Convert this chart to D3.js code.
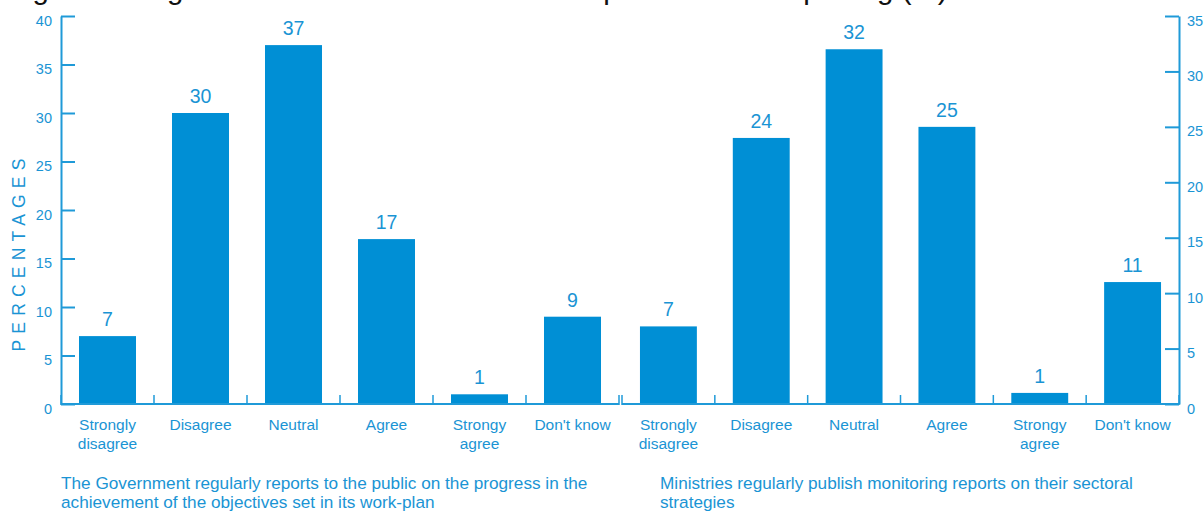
<!DOCTYPE html>
<html>
<head>
<meta charset="utf-8">
<script src="https://cdn.jsdelivr.net/npm/d3@7"></script>
<style>
  html, body { margin: 0; padding: 0; background: #fff; }
  svg { display: block; }
  text { font-family: "Liberation Sans", Arial, sans-serif; }
</style>
</head>
<body>
<svg id="chart" width="1204" height="511"></svg>
<script>
// Survey response categories (shared by both panels)
const categories = ["Strongly disagree", "Disagree", "Neutral", "Agree", "Strongy agree", "Don't know"];
const categoryLines = [["Strongly", "disagree"], ["Disagree"], ["Neutral"], ["Agree"], ["Strongy", "agree"], ["Don't know"]];

// Share of respondents (%)
const governmentReports = [7, 30, 37, 17, 1, 9];
const ministryReports = [7, 24, 32, 25, 1, 11];

// Axis ticks
const leftTicks = [0, 5, 10, 15, 20, 25, 30, 35, 40];
const rightTicks = [0, 5, 10, 15, 20, 25, 30, 35];

const titleText = "Figure 6.7 Agreement with the statements on performance reporting (%)";
const leftCaption = ["The Government regularly reports to the public on the progress in the",
                     "achievement of the objectives set in its work-plan"];
const rightCaption = ["Ministries regularly publish monitoring reports on their sectoral",
                      "strategies"];

const BAR = "#008fd5";
const LINE = "#1f9ad8";
const TEXT = "#1a94d4";

const svg = d3.select("#chart");

// Title (runs off the top edge of the figure)
svg.append("text")
  .attr("x", 8).attr("y", -1.5)
  .attr("font-size", 29.5)
  .attr("fill", "#111")
  .text(titleText);

const baseY = 404, topY = 16;
const yLeft = d3.scaleLinear().domain([0, 40]).range([baseY, topY]);
const yRight = d3.scaleLinear().domain([0, 35]).range([baseY, topY]);

const xLeft = d3.scaleBand().domain(categories).range([61, 619]).paddingInner(0.387).paddingOuter(0.1935);
const xRight = d3.scaleBand().domain(categories).range([622, 1179]).paddingInner(0.387).paddingOuter(0.1935);

function styleAxis(g) {
  g.select(".domain").attr("stroke", LINE).attr("stroke-width", 2);
  g.selectAll(".tick line").attr("stroke", LINE).attr("stroke-width", 2);
  g.selectAll(".tick text")
    .attr("fill", TEXT)
    .attr("font-size", 14.5)
    .attr("font-family", "Liberation Sans, Arial, sans-serif")
    .attr("dy", "0.62em");
}

// Left value axis
svg.append("g")
  .attr("transform", "translate(61,0)")
  .call(d3.axisLeft(yLeft).tickValues(leftTicks).tickSizeInner(-14).tickSizeOuter(0).tickPadding(9))
  .call(styleAxis);

// Right value axis
svg.append("g")
  .attr("transform", "translate(1179,0)")
  .call(d3.axisRight(yRight).tickValues(rightTicks).tickSizeInner(-14).tickSizeOuter(0).tickPadding(8))
  .call(styleAxis);

// Y axis title
svg.append("text")
  .attr("transform", "translate(25,252) rotate(-90)")
  .attr("text-anchor", "middle")
  .attr("font-size", 17.5)
  .attr("letter-spacing", "6.2px")
  .attr("fill", TEXT)
  .text("PERCENTAGES");

function drawPanel(x, y, values, startX, endX, caption, captionX) {
  const g = svg.append("g");

  // baseline with category separators
  g.append("line")
    .attr("x1", startX).attr("x2", endX)
    .attr("y1", baseY).attr("y2", baseY)
    .attr("stroke", LINE).attr("stroke-width", 2);

  const r = x.range();
  const bounds = d3.range(0, categories.length + 1).map(i => r[0] + i * x.step());
  g.selectAll("line.sep")
    .data(bounds)
    .join("line")
    .attr("class", "sep")
    .attr("x1", d => d).attr("x2", d => d)
    .attr("y1", baseY - 9).attr("y2", baseY + 1)
    .attr("stroke", LINE).attr("stroke-width", 1.5);

  g.selectAll("rect.bar")
    .data(values)
    .join("rect")
    .attr("class", "bar")
    .attr("x", (d, i) => x(categories[i]))
    .attr("width", x.bandwidth())
    .attr("y", d => y(d))
    .attr("height", d => y(0) - y(d) - 1)
    .attr("fill", BAR);

  g.selectAll("text.val")
    .data(values)
    .join("text")
    .attr("class", "val")
    .attr("x", (d, i) => x(categories[i]) + x.bandwidth() / 2)
    .attr("y", d => y(d) - 10)
    .attr("text-anchor", "middle")
    .attr("font-size", 19.5)
    .attr("font-family", "Open Sans, Liberation Sans, Arial, sans-serif")
    .attr("fill", TEXT)
    .text(d => d);

  // category labels
  const cat = g.selectAll("text.cat")
    .data(categoryLines)
    .join("text")
    .attr("class", "cat")
    .attr("text-anchor", "middle")
    .attr("font-size", 15.5)
    .attr("fill", TEXT);
  cat.each(function (lines, i) {
    const cx = x(categories[i]) + x.bandwidth() / 2;
    d3.select(this).selectAll("tspan")
      .data(lines)
      .join("tspan")
      .attr("x", cx)
      .attr("y", (d, j) => 430 + j * 19)
      .text(d => d);
  });

  // panel caption
  g.append("text")
    .attr("font-size", 17.2)
    .attr("fill", TEXT)
    .selectAll("tspan")
    .data(caption)
    .join("tspan")
    .attr("x", captionX)
    .attr("y", (d, j) => 489 + j * 19)
    .text(d => d);
}

drawPanel(xLeft, yLeft, governmentReports, 61, 619, leftCaption, 61);
drawPanel(xRight, yRight, ministryReports, 622, 1179, rightCaption, 660);
</script>
</body>
</html>
